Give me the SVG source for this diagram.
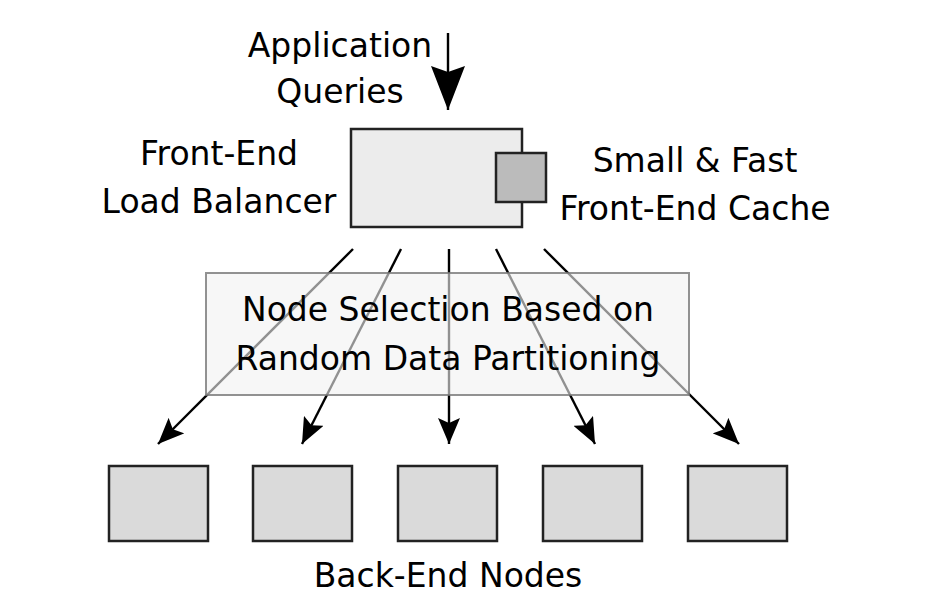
<svg xmlns="http://www.w3.org/2000/svg" width="929" height="608" viewBox="0 0 929 608">
<defs>
<style>
text{font-family:"DejaVu Sans","Liberation Sans",sans-serif;font-size:33px;fill:#000;text-anchor:middle}
.node{fill:#dadada;stroke:#222;stroke-width:2.5}
.conn{stroke:#000;stroke-width:2.4;fill:none}
</style>
<marker id="ah" viewBox="0 0 26 22" refX="26" refY="11" markerWidth="26" markerHeight="22" markerUnits="userSpaceOnUse" orient="auto">
<path d="M0,0 L26,11 L0,22 L5,11 Z" fill="#000"/>
</marker>
<marker id="ahBig" viewBox="0 0 44 34" refX="44" refY="17" markerWidth="44" markerHeight="34" markerUnits="userSpaceOnUse" orient="auto">
<path d="M0,0 L44,17 L0,34 L6,17 Z" fill="#000"/>
</marker>
</defs>
<g id="labels">
<text x="340" y="57">Application</text>
<text x="340" y="103">Queries</text>
<text x="219" y="165">Front-End</text>
<text x="219" y="213">Load Balancer</text>
<text x="695" y="172">Small &amp; Fast</text>
<text x="695" y="220">Front-End Cache</text>
<text x="448" y="587">Back-End Nodes</text>
</g>
<g id="connectors">
<line class="conn" x1="448" y1="33" x2="448" y2="110" stroke-width="3" marker-end="url(#ahBig)"/>
<line class="conn" x1="353" y1="249" x2="158" y2="444" marker-end="url(#ah)"/>
<line class="conn" x1="401" y1="249" x2="302" y2="444" marker-end="url(#ah)"/>
<line class="conn" x1="449" y1="249" x2="449" y2="444" marker-end="url(#ah)"/>
<line class="conn" x1="496" y1="249" x2="595" y2="444" marker-end="url(#ah)"/>
<line class="conn" x1="544" y1="249" x2="739" y2="444" marker-end="url(#ah)"/>
</g>
<g id="front-end">
<rect x="351" y="129" width="171" height="98" fill="#ececec" stroke="#222" stroke-width="2.5"/>
</g>
<g id="cache">
<rect x="496" y="153" width="50" height="49" fill="#bbbbbb" stroke="#222" stroke-width="2.5"/>
</g>
<g id="selection">
<rect x="206" y="273" width="483" height="122" fill="#f2f2f2" fill-opacity="0.6" stroke="#777" stroke-opacity="0.8" stroke-width="2"/>
<text x="448" y="321">Node Selection Based on</text>
<text x="448" y="370">Random Data Partitioning</text>
</g>
<g id="back-end-1"><rect class="node" x="109" y="466" width="99" height="75"/></g>
<g id="back-end-2"><rect class="node" x="253" y="466" width="99" height="75"/></g>
<g id="back-end-3"><rect class="node" x="398" y="466" width="99" height="75"/></g>
<g id="back-end-4"><rect class="node" x="543" y="466" width="99" height="75"/></g>
<g id="back-end-5"><rect class="node" x="688" y="466" width="99" height="75"/></g>
</svg>
